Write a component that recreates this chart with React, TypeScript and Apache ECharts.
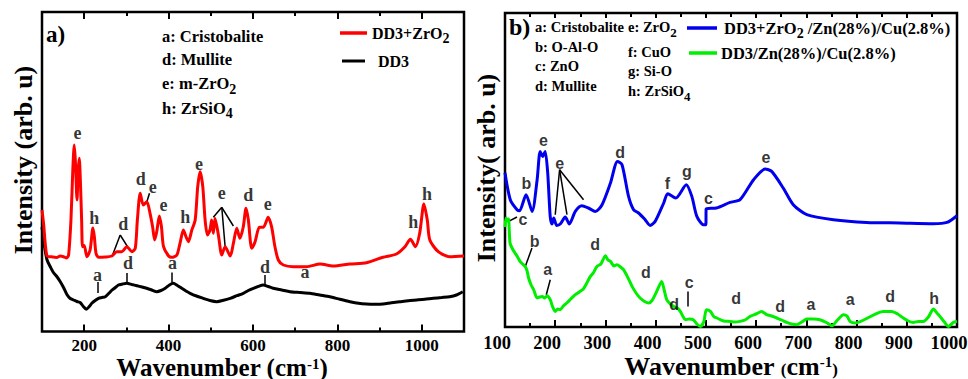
import React, { useEffect, useRef } from "react";
import * as echarts from "echarts";

const SERIF = '"Liberation Serif","Times New Roman",serif';
const SANS = '"Liberation Sans",Arial,sans-serif';

// ---------- axes ticks ----------
const ticksA = [200, 400, 600, 800, 1000];
const minorTicksA = [300, 500, 700, 900];
const ticksB = [100, 200, 300, 400, 500, 600, 700, 800, 900, 1000];
const minorTicksB = [150, 250, 350, 450, 550, 650, 750, 850, 950];

// ---------- panel a data (wavenumber cm-1, intensity arb.u.) ----------
const dd3ZrO2: [number, number][] = [
  [100, 121.5], [104, 106.5], [108, 86.5], [112, 75.5], [120, 74.8], [135, 74], [143, 75.5], [151, 74.8],
  [158, 73.5], [163, 76.5], [168.6, 111.5], [173, 161.5], [176.4, 186.5], [179, 171], [183, 131.5],
  [185.5, 160], [188.3, 173.2], [191, 150], [194, 110], [196, 84.8], [200, 86], [206.5, 74.8], [214, 81.5],
  [220.7, 103.5], [224, 95], [228, 78.2], [234, 74.2], [250, 74.5], [265.6, 75.5], [277, 79.8], [289, 79.8],
  [301, 84.8], [313, 79.8], [321, 83.2], [326, 111.5], [332.7, 138.2], [340, 126.5], [348.5, 129.8],
  [356, 118.2], [362, 105], [367, 91.5], [372, 100], [378, 115.5], [383, 105], [388, 84.8], [400, 75.5],
  [407.6, 74.2], [419.5, 76.5], [427, 88.2], [435, 101.5], [441, 95], [447, 89.8], [455, 101.5], [463, 111.5],
  [469, 144.8], [474.7, 159.8], [481, 144.8], [486.5, 111.5], [492, 96.5], [498, 101.5], [502, 111.5],
  [506, 98.2], [510, 113.2], [518, 96.5], [526, 76.5], [534, 84.8], [546, 75.5], [553.5, 88.2], [561.5, 103.2],
  [569, 93.2], [577, 104.8], [583.5, 123.2], [589, 111.5], [597, 83.2], [605, 89.8], [615, 104.2],
  [624.5, 104.2], [636, 114.2], [644, 104.8], [652, 84.8], [660, 71.5], [672, 66.5], [695.5, 64.8],
  [727, 64.8], [759, 67.5], [790, 65.5], [830, 67.5], [869, 68.8], [908, 74.2], [940, 77.5], [960, 84.8],
  [973, 92.2], [985, 84.8], [995, 98.2], [1005, 127.5], [1013, 111.5], [1019, 91.5], [1039, 79.8],
  [1066, 74.8], [1100, 75.5],
];

const dd3: [number, number][] = [
  [100, 104.5], [106, 85], [112, 71.5], [120, 64.5], [127, 59], [135, 55], [143, 50], [151, 44], [159, 37],
  [167, 33], [175, 31.5], [183, 30], [191, 28.8], [198, 25], [205, 22.2], [212, 25], [218, 28.2], [226, 31],
  [234, 33.2], [242, 34], [250, 34.8], [258, 38], [266, 41.5], [274, 44], [281, 46.5], [291, 47.5],
  [301, 48.2], [313, 47], [325, 45.8], [337, 44.5], [348, 43.2], [360, 41.5], [372, 39.8], [382, 41],
  [392, 43.2], [402, 46.5], [411, 48.2], [421, 46], [431, 43.2], [441, 40.5], [451, 38.2], [466, 35.5],
  [482, 33.2], [498, 31], [514, 29.8], [530, 31.2], [546, 33.2], [562, 35.8], [577, 38.2], [589, 41],
  [601, 43.2], [613, 45.2], [624, 46.5], [636, 45], [648, 43.2], [668, 41.5], [688, 39.8], [712, 39],
  [735, 38.2], [758, 36.5], [782, 34.8], [806, 32.2], [830, 29.8], [850, 28.2], [869, 27.5], [889, 27.3],
  [908, 27.5], [928, 28.8], [948, 29.8], [968, 30.8], [988, 31.5], [1007, 32.2], [1027, 33.2], [1047, 34],
  [1066, 34.8], [1082, 36.5], [1097, 39.8],
];

// ---------- panel b data ----------
const dd3ZrO2ZnCu: [number, number][] = [
  [100, 154.3], [110.5, 127.3], [124, 117.3], [129, 116.3], [142, 132.3], [154, 115.6], [164, 147.3],
  [170, 175.6], [175, 170.6], [180, 175.6], [185, 154.3], [190, 110.6], [193.5, 103], [197, 109], [203, 101.6],
  [210, 103], [220, 110], [228, 103], [240, 115.6], [253, 121.3], [266, 119], [280, 115.6], [293, 122],
  [310, 144], [324, 165.6], [333, 162.3], [346, 130.6], [356, 117.3], [366, 114], [379, 107.3], [389, 101.6],
  [399, 105.6], [416, 124], [424, 133.3], [440, 129], [461, 142.3], [472, 130.6], [482, 110.6], [495, 102.3],
  [500, 102.3], [500.5, 118], [521, 119], [548, 124.6], [568, 127.3], [595, 147.3], [618, 158], [631, 155.6],
  [654, 139], [674, 122.3], [701, 112.3], [754, 107.3], [820, 104.6], [886, 104], [953, 103.3], [980, 104.6],
  [1000, 111.3],
];

const dd3ZnCu: [number, number][] = [
  [100, 100], [102, 109], [105, 106], [107, 108], [110, 84], [115, 78], [120, 74], [125, 70], [130, 65.6],
  [135, 63], [140, 60.6], [144, 56], [147, 49], [152, 42], [157, 37.3], [164, 29], [169, 30], [174, 30.6],
  [179, 29], [184, 31.3], [190, 27.3], [195, 20], [200, 15.6], [205, 18], [210, 17.3], [216, 21], [223, 24],
  [231, 28], [240, 32.3], [248, 35], [256, 38], [263, 44], [270, 50.6], [277, 55], [283, 60.6], [291, 63],
  [300, 71.3], [305, 67], [310, 65.6], [317, 61], [323, 62.3], [330, 60], [336, 57.3], [345, 49], [353, 40.6],
  [361, 34], [369, 29], [378, 25.5], [386, 24], [392, 26], [399, 32.3], [406, 40], [412, 45.6], [417, 37],
  [422, 27.3], [429, 23], [436, 20.6], [443, 19], [449, 15.6], [455, 10], [459, 7.3], [467, 8], [475, 7.3],
  [482, 3], [489, 0.6], [496, 5.6], [501, 17.3], [509, 15.6], [516, 10.3], [522, 9], [535, 6], [548, 5.6],
  [558, 5], [568, 5.6], [578, 7], [588, 10.6], [600, 13], [611, 15.6], [621, 12.3], [631, 11], [641, 9],
  [651, 7], [661, 4.6], [671, 3], [681, 2.3], [691, 5], [701, 8], [714, 8], [727, 7.3], [740, 4.5],
  [751, 1.3], [762, 7], [774, 12.3], [781, 11], [787, 5.6], [797, 4], [853, 15.6], [870, 15.6], [882, 13],
  [893, 9], [903, 6], [913, 4.6], [923, 5.6], [933, 5.6], [943, 10], [953, 18], [960, 14], [966, 10.6],
  [975, 5], [983, 0.6], [993, 4.6], [1000, 5.6],
];

// peak labels [text, wavenumber, intensity]
const peakLabelsA: [string, number, number][] = [
  ["e", 184.3, 198.5], ["h", 223.8, 113.5], ["d", 292.4, 107.5], ["d", 334.3, 152.5], ["e", 362.7, 144.5],
  ["e", 387.8, 126.5], ["h", 439.2, 114.2], ["e", 472.3, 167.5], ["e", 526, 138.2], ["d", 589, 136.5],
  ["e", 634.9, 127.2], ["h", 979.5, 109.5], ["h", 1012.6, 137.5], ["a", 723.2, 59.5],
  ["a", 231.6, 56.5], ["d", 303.5, 68.5], ["a", 409, 68.5], ["d", 628.5, 64.5],
];
const leadersA: [number, number][][] = [
  [[285.3, 96.5], [265.7, 74.8]], [[285.3, 96.5], [302.6, 84.8]],
  [[354.7, 138.2], [348.5, 129.8]],
  [[526, 124.2], [506, 114.2]], [[526, 124.2], [533.8, 85.5]], [[526, 124.2], [553.5, 105.5]],
  [[231.6, 49.5], [231.6, 38.5]], [[300, 58.5], [300, 48.5]], [[408.5, 59], [408.5, 49]], [[628.5, 56.5], [628.5, 46.5]],
];
const peakLabelsB: [string, number, number][] = [
  ["b", 142.4, 144], ["e", 176.8, 186.6], ["e", 208.7, 164], ["d", 329.5, 174.6], ["f", 423.6, 144],
  ["g", 462.2, 155.6], ["c", 505.2, 129], ["e", 619.4, 170],
  ["c", 135.8, 108], ["b", 158.9, 85.6], ["a", 184.8, 57.3], ["d", 279.7, 82.3], ["d", 380.6, 54.6],
  ["d", 436.9, 22.3], ["c", 466.8, 44.6], ["d", 560.3, 29], ["d", 647.9, 20.6], ["a", 709, 22.3],
  ["a", 787.2, 28], ["d", 866.8, 30.6], ["h", 954.3, 29],
];
const leadersB: [number, number][][] = [
  [[208.7, 157.3], [200, 112.3]], [[208.7, 157.3], [223.4, 112.3]], [[208.7, 157.3], [256.4, 127.3]],
  [[123.9, 110], [107.2, 105.6]], [[153.7, 79], [140.4, 60.6]], [[190.1, 47.3], [182.2, 32.3]],
  [[464.2, 35.6], [464.2, 20.6]],
];

const tickLabel = { fontFamily: SERIF, fontWeight: "bold", color: "#000", formatter: (v: number) => String(v) };

function xAx(gridIndex: number, min: number, max: number, position: string, ticks: number[], len: number, labels?: number[], extra?: any) {
  return {
    type: "value", gridIndex, min, max, position,
    axisLine: { show: false }, splitLine: { show: false },
    axisTick: { show: true, inside: true, length: len, customValues: ticks, lineStyle: { color: "#000", width: 2 } },
    axisLabel: labels ? { show: true, customValues: labels, ...tickLabel, ...extra } : { show: false },
  };
}
function yAx(gridIndex: number, max: number) {
  return {
    type: "value", gridIndex, min: 0, max,
    axisLine: { show: false }, axisTick: { show: false }, axisLabel: { show: false }, splitLine: { show: false },
  };
}

export default function App() {
  const ref = useRef<HTMLDivElement>(null);
  useEffect(() => {
    const chart = echarts.init(ref.current!, null, { renderer: "svg" });
    const gA = { left: 42, top: 12, width: 422, height: 319.5, containLabel: false, outerBoundsMode: "none" };
    const gB = { left: 505, top: 13, width: 452, height: 314, containLabel: false, outerBoundsMode: "none" };
    const main = (fs: number, lh: number) => ({ fontFamily: SERIF, fontWeight: "bold", fontSize: fs, lineHeight: lh, fill: "#000" });
    const sub = (fs: number) => ({ fontFamily: SERIF, fontWeight: "bold", fontSize: fs, lineHeight: fs, verticalAlign: "bottom", fill: "#000" });
    const txt = (x: number, y: number, text: string, fs: number, rich?: any) => ({
      type: "text", x, y,
      style: { text, fontFamily: SERIF, fontWeight: "bold", fontSize: fs, fill: "#000", verticalAlign: "middle", align: "left", rich },
    });
    const subRich = (fs: number, sfs: number) => ({ m: main(fs, fs + 9), s: sub(sfs) });
    const lineG = (x1: number, x2: number, y: number, color: string, w: number) => ({
      type: "line", shape: { x1, y1: y, x2, y2: y }, style: { stroke: color, lineWidth: w },
    });
    const labelSeries = (xi: number, yi: number, items: [string, number, number][], font: string, fs: number) => ({
      type: "scatter", xAxisIndex: xi, yAxisIndex: yi, symbol: "circle", symbolSize: 1, silent: true,
      itemStyle: { color: "rgba(0,0,0,0)" },
      label: { show: true, position: "inside", formatter: (p: any) => p.name, fontFamily: font, fontWeight: "bold", fontSize: fs, color: "#000" },
      labelLayout: { hideOverlap: false },
      data: items.map(([t, x, y]) => ({ name: t, value: [x, y] })),
      z: 5,
    });
    const leaderSeries = (xi: number, yi: number, items: [number, number][][]) => ({
      type: "lines", coordinateSystem: "cartesian2d", xAxisIndex: xi, yAxisIndex: yi, silent: true,
      lineStyle: { color: "#000", width: 1.5, opacity: 1 }, symbol: ["none", "none"],
      data: items.map((c) => ({ coords: c })),
    });
    const lineSeries = (xi: number, yi: number, data: [number, number][], color: string, name: string) => ({
      type: "line", name, xAxisIndex: xi, yAxisIndex: yi, data, showSymbol: false, smooth: 0.25,
      lineStyle: { color, width: 3 }, itemStyle: { color }, silent: true,
    });

    chart.setOption({
      animation: false,
      grid: [
        { ...gA, show: true, borderColor: "#000", borderWidth: 2.5, backgroundColor: "transparent" },
        { ...gB, show: true, borderColor: "#000", borderWidth: 2.5, backgroundColor: "transparent" },
        { ...gA, show: false },
        { ...gB, show: false },
      ],
      xAxis: [
        xAx(0, 100, 1100, "bottom", ticksA, 7, ticksA, { fontSize: 17, lineHeight: 17, margin: 5 }),
        xAx(0, 100, 1100, "top", ticksA, 7),
        xAx(2, 100, 1100, "bottom", minorTicksA, 4),
        xAx(2, 100, 1100, "top", minorTicksA, 4),
        xAx(1, 100, 1000, "bottom", ticksB, 7, ticksB, { fontSize: 18.5, lineHeight: 18, margin: 7, padding: [0, 16, 0, 0] }),
        xAx(1, 100, 1000, "top", ticksB, 5),
        xAx(3, 100, 1000, "bottom", minorTicksB, 4),
        xAx(3, 100, 1000, "top", minorTicksB, 4),
      ],
      yAxis: [yAx(0, 319.5), yAx(1, 314), yAx(2, 319.5), yAx(3, 314)],
      series: [
        lineSeries(0, 0, dd3, "#000000", "DD3"),
        lineSeries(0, 0, dd3ZrO2, "#ff0000", "DD3+ZrO2"),
        lineSeries(4, 1, dd3ZnCu, "#00ee00", "DD3/Zn(28%)/Cu(2.8%)"),
        lineSeries(4, 1, dd3ZrO2ZnCu, "#0000ee", "DD3+ZrO2 /Zn(28%)/Cu(2.8%)"),
        labelSeries(0, 0, peakLabelsA, SERIF, 18),
        leaderSeries(0, 0, leadersA),
        labelSeries(4, 1, peakLabelsB, SANS, 16),
        leaderSeries(4, 1, leadersB),
      ],
      graphic: [
        // panel a
        txt(46, 34, "a)", 23),
        txt(162, 36, "a: Cristobalite", 16.5),
        txt(162, 59.5, "d: Mullite", 16.5),
        txt(162, 83.5, "{m|e: m-ZrO}{s|2}", 16.5, subRich(16.5, 14)),
        txt(162, 108, "{m|h: ZrSiO}{s|4}", 16.5, subRich(16.5, 14)),
        lineG(340, 367, 33, "#ff0000", 3.5),
        txt(372, 33, "{m|DD3+ZrO}{s|2}", 16, subRich(16, 14)),
        lineG(342, 365, 61, "#000000", 3),
        txt(378, 61, "DD3", 16),
        {
          type: "text", x: 23.5, y: 160, rotation: Math.PI / 2,
          style: { text: "Intensity (arb. u)", fontFamily: SERIF, fontWeight: "bold", fontSize: 26, fill: "#000", align: "center", verticalAlign: "middle" },
        },
        {
          type: "text", x: 222, y: 367,
          style: {
            text: "{m|Wavenumber (cm}{p|-1}{m|)}", align: "center", verticalAlign: "middle",
            rich: { m: main(25, 22), p: { ...main(15, 12), verticalAlign: "top" } },
          },
        },
        // panel b
        txt(509, 27, "b)", 24),
        txt(535, 27, "a: Cristobalite", 14.5),
        txt(628, 27, "{m|e: ZrO}{s|2}", 14.5, subRich(14.5, 13)),
        txt(535, 46.5, "b: O-Al-O", 14.5),
        txt(535, 66, "c: ZnO", 14.5),
        txt(535, 85.5, "d: Mullite", 14.5),
        txt(628, 52, "f: CuO", 14.5),
        txt(628, 71, "g: Si-O", 14.5),
        txt(628, 91, "{m|h: ZrSiO}{s|4}", 14.5, subRich(14.5, 13)),
        lineG(687, 717, 28, "#0000ee", 3.5),
        txt(724, 28, "{m|DD3+ZrO}{s|2}{m| /Zn(28%)/Cu(2.8%)}", 16.5, subRich(16.5, 14)),
        lineG(689, 717, 53, "#00ee00", 3.5),
        txt(721, 53, "DD3/Zn(28%)/Cu(2.8%)", 16.5),
        {
          type: "text", x: 486, y: 168, rotation: Math.PI / 2,
          style: { text: "Intensity( arb. u)", fontFamily: SERIF, fontWeight: "bold", fontSize: 26, fill: "#000", align: "center", verticalAlign: "middle" },
        },
        {
          type: "text", x: 731, y: 366,
          style: {
            text: "{m|Wavenumber }{q|(}{m|cm}{p|-1}{q|)}", align: "center", verticalAlign: "middle",
            rich: { m: main(26, 24), p: { ...main(15, 12), verticalAlign: "top" }, q: { ...main(17, 14), verticalAlign: "bottom" } },
          },
        },
      ],
    });
    return () => chart.dispose();
  }, []);
  return <div ref={ref} style={{ position: "absolute", left: 0, top: 0, width: 968, height: 379, background: "#fff" }} />;
}
